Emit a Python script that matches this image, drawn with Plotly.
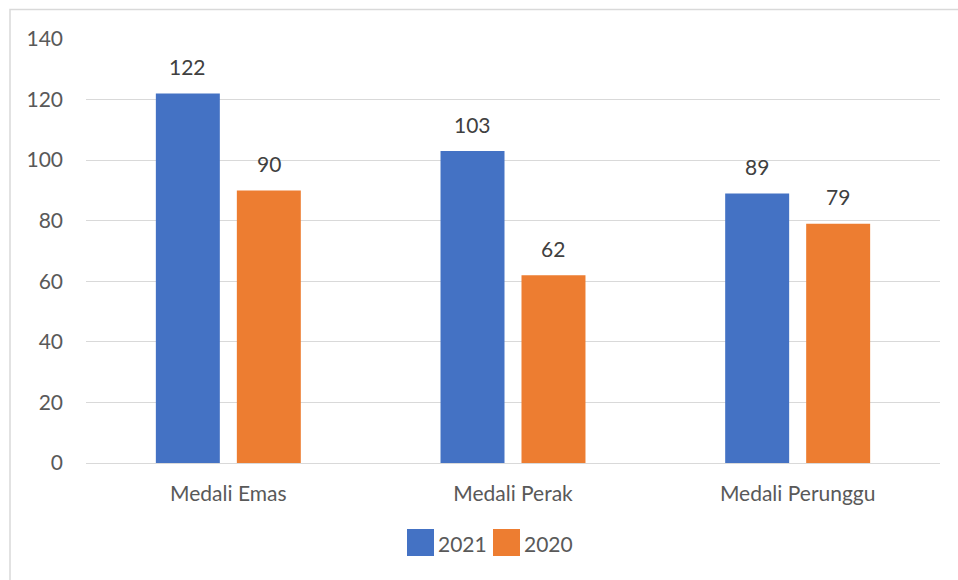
import plotly.graph_objects as go

categories = ["Medali Emas", "Medali Perak", "Medali Perunggu"]
series_names = ["2021", "2020"]
series_2021 = [122, 103, 89]
series_2020 = [90, 62, 79]
colors = ["#4472C4", "#ED7D31"]
y_ticks = [0, 20, 40, 60, 80, 100, 120, 140]

font_family = "Lato, Open Sans, sans-serif"
text_color = "#595959"
label_color = "#404040"
fs = 21

W, H = 958, 580
L, R, T, B = 86, 18, 39, 117
pw, ph = W - L - R, H - T - B
BARGAP, GROUPGAP = 0.431, 0.21

fig = go.Figure()
for name, vals, col in zip(series_names, [series_2021, series_2020], colors):
    fig.add_trace(go.Bar(name=name, x=categories, y=vals, marker_color=col, marker_line_width=0))

# data labels
slot = pw / 3 * (1 - BARGAP) / 2
for i, vals in enumerate([series_2021, series_2020]):
    for c, v in zip(categories, vals):
        fig.add_annotation(x=c, y=v, text=str(v), showarrow=False, xref="x", yref="y",
                           xshift=(-slot / 2 if i == 0 else slot / 2), yshift=27,
                           font=dict(size=fs, color=label_color, family=font_family))

fig.update_layout(
    width=W, height=H,
    margin=dict(l=L, r=R, t=T, b=B),
    paper_bgcolor="white", plot_bgcolor="white",
    barmode="group", bargap=BARGAP, bargroupgap=GROUPGAP,
    font=dict(family=font_family, size=fs, color=text_color),
    showlegend=False,
)
fig.update_yaxes(range=[0, 140], tickvals=y_ticks, showgrid=True, gridcolor="#D9D9D9", gridwidth=1,
                 zeroline=False, showline=False, ticks="", ticklabelstandoff=22,
                 tickfont=dict(size=fs, color=text_color))
fig.update_xaxes(showline=True, linecolor="#D9D9D9", linewidth=1, ticks="",
                 tickfont=dict(size=fs, color=text_color), ticklabelstandoff=12)

def px(x):
    return (x - L) / pw

def py(y):
    return (H - B - y) / ph

# Chart border
fig.add_shape(type="rect", xref="paper", yref="paper",
              x0=px(10), x1=px(962), y0=py(590), y1=py(9.5),
              line=dict(color="#D9D9D9", width=1.5), fillcolor="rgba(0,0,0,0)", layer="below")

# Legend (manual, large swatches)
legend_items = [(series_names[0], colors[0], 407), (series_names[1], colors[1], 493)]
for name, col, x0 in legend_items:
    fig.add_shape(type="rect", xref="paper", yref="paper",
                  x0=px(x0), x1=px(x0 + 27), y0=py(556), y1=py(529),
                  line=dict(width=0), fillcolor=col)
    fig.add_annotation(x=px(x0 + 29), y=py(543), xref="paper", yref="paper", text=name,
                       showarrow=False, xanchor="left", yanchor="middle",
                       font=dict(size=fs, color=text_color, family=font_family))

fig.write_html("out.html", config={"displayModeBar": False},
               post_script="document.body.style.margin='0';")
